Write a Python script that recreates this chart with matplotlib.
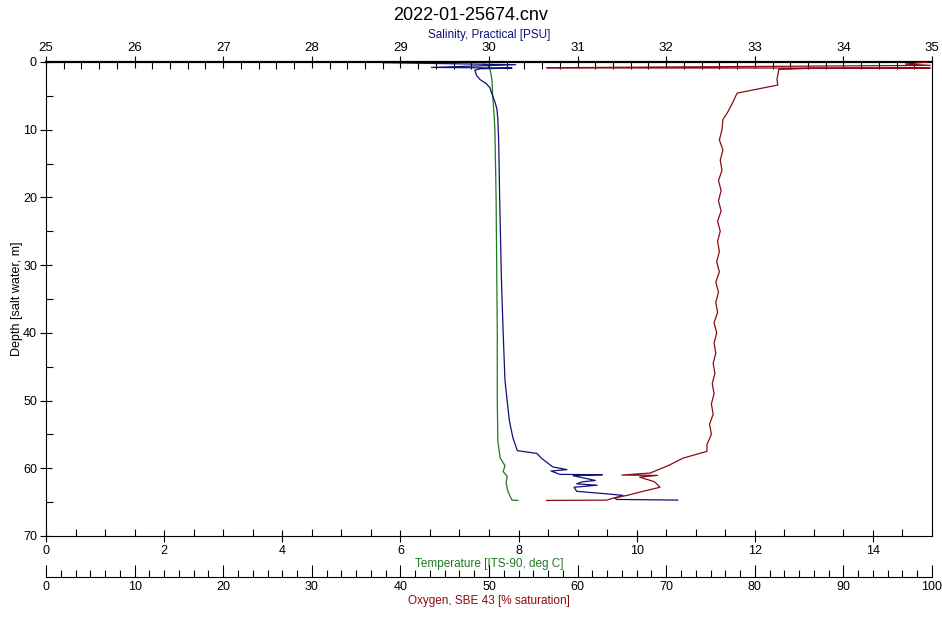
import matplotlib
matplotlib.use("Agg")
import matplotlib.pyplot as plt
from matplotlib.ticker import MultipleLocator

# CTD profile values (depth in m)
sal_depth = [0.0, 0.1, 0.4, 0.8, 0.9, 1.0, 1.2, 2.0, 2.6, 3.2, 3.8, 4.6, 6.0, 7.0, 8.5, 12, 20,
             26, 32, 40, 47, 53, 55.5, 57.4, 57.8, 58.6, 59.3, 59.8, 60.2, 60.4, 60.9, 60.95,
             61.1, 61.8, 62.0, 62.3, 62.5, 62.8, 63.4, 63.8, 64.0, 64.4, 64.6, 64.7]
salinity = [30.88, 28.8, 30.3, 29.35, 30.26, 29.9, 29.84, 29.86, 29.9, 29.97, 30.01, 30.03,
            30.07, 30.09, 30.10, 30.11, 30.12, 30.13, 30.14, 30.16, 30.18, 30.23, 30.27, 30.32,
            30.54, 30.60, 30.67, 30.72, 30.88, 30.70, 30.80, 31.28, 30.95, 31.20, 31.05, 30.99,
            31.22, 30.96, 30.99, 31.35, 31.51, 31.42, 31.44, 32.13]

temp_depth = [0.3, 0.5, 1.2, 2.6, 4.6, 7.0, 10, 20, 30, 40, 50, 56, 58.5, 59.6, 60.5, 61.2, 62.1,
              63.1, 64.2, 64.7, 64.75]
temperature = [7.40, 7.48, 7.52, 7.55, 7.56, 7.58, 7.60, 7.62, 7.63, 7.64, 7.64, 7.65, 7.69, 7.77,
               7.74, 7.81, 7.79, 7.81, 7.86, 7.89, 7.99]

ox_depth = [0.0, 0.3, 0.5, 0.85, 0.88, 0.9, 0.95, 1.1, 1.2, 2.6, 3.4, 4.6, 6.0, 7.5, 8.5,
            10, 11.5, 13, 14.5, 16, 17.5, 19, 20.5, 22, 23.5, 25, 26.5, 28, 29.5, 31, 32.5, 34,
            35.5, 37, 38.5, 40, 41.5, 43, 44.5, 46, 47.5, 49, 50.5, 52, 53.5, 55, 56.5, 57.5,
            58.5, 59.5, 60.7, 61.0, 61.05, 61.3, 62.0, 62.8, 63.4, 64.0, 64.4, 64.7, 64.75]
oxygen = [99.5, 97.0, 99.8, 56.5, 63.0, 99.8, 86.0, 82.7, 82.7, 82.5, 82.6, 78.0, 77.5, 76.9,
          76.4, 76.3, 76.0, 76.4, 76.1, 76.3, 75.9, 76.2, 75.9, 76.2, 75.8, 76.1, 75.8, 76.0,
          75.7, 76.0, 75.6, 75.9, 75.6, 75.8, 75.4, 75.7, 75.4, 75.6, 75.3, 75.5, 75.2, 75.4,
          75.1, 75.3, 74.9, 75.1, 74.6, 74.6, 71.9, 70.4, 68.2, 65.0, 69.0, 67.0, 68.7, 69.3,
          67.4, 65.6, 64.0, 63.3, 56.5]

SAL_COLOR = "#10107a"
TEMP_COLOR = "#1f7a1f"
OX_COLOR = "#8b0a14"

plt.rcParams["font.family"] = ["Liberation Sans", "DejaVu Sans"]

W, H = 942, 622
fig = plt.figure(figsize=(W / 100, H / 100), dpi=100)
left, right, top, bottom = 46, 932, 62, 536
ax = fig.add_axes([left / W, 1 - bottom / H, (right - left) / W, (bottom - top) / H])

# temperature on the bottom axis
ax.plot(temperature, temp_depth, color=TEMP_COLOR, lw=0.9)
ax.set_xlim(0, 15)
ax.set_ylim(70, 0)
ax.xaxis.set_major_locator(MultipleLocator(2))
ax.xaxis.set_minor_locator(MultipleLocator(0.5))
ax.yaxis.set_major_locator(MultipleLocator(10))
ax.yaxis.set_minor_locator(MultipleLocator(5))
ax.tick_params(axis="both", which="major", direction="inout", length=9, width=0.8,
               labelsize=9, pad=2)
ax.tick_params(axis="both", which="minor", direction="in", length=5, width=0.8)
ax.set_xlabel("Temperature [ITS-90, deg C]", color=TEMP_COLOR, fontsize=8.5, labelpad=1)
ax.set_ylabel("Depth [salt water, m]", fontsize=9)
ax.yaxis.set_label_coords(-(left - 23) / (right - left), 0.5)
ax.spines["top"].set_visible(False)

# salinity on the top axis
ax_sal = ax.twiny()
ax_sal.plot(salinity, sal_depth, color=SAL_COLOR, lw=0.9)
ax_sal.set_xlim(25, 35)
ax_sal.set_ylim(70, 0)
ax_sal.xaxis.set_major_locator(MultipleLocator(1))
ax_sal.xaxis.set_minor_locator(MultipleLocator(0.2))
ax_sal.tick_params(axis="x", which="major", direction="inout", length=9, width=0.8,
                   labelsize=9.5, pad=1)
ax_sal.tick_params(axis="x", which="minor", direction="in", length=5, width=0.8)
ax_sal.set_xlabel("Salinity, Practical [PSU]", color=SAL_COLOR, fontsize=8.5, labelpad=3)
ax_sal.spines["top"].set_linewidth(1.6)
for s in ("left", "right", "bottom"):
    ax_sal.spines[s].set_visible(False)

# oxygen on a detached axis below
ax_ox = ax.twiny()
ax_ox.plot(oxygen, ox_depth, color=OX_COLOR, lw=0.9)
ax_ox.set_xlim(0, 100)
ax_ox.set_ylim(70, 0)
ax_ox.xaxis.set_ticks_position("bottom")
ax_ox.xaxis.set_label_position("bottom")
ax_ox.spines["bottom"].set_position(("axes", -(577 - bottom) / (bottom - top)))
for s in ("left", "right", "top"):
    ax_ox.spines[s].set_visible(False)
ax_ox.xaxis.set_major_locator(MultipleLocator(10))
ax_ox.xaxis.set_minor_locator(MultipleLocator(10 / 6))
ax_ox.tick_params(axis="x", which="major", direction="in", length=9, width=0.8,
                  labelsize=9, pad=3)
ax_ox.tick_params(axis="x", which="minor", direction="in", length=5, width=0.8)
ax_ox.set_xlabel("Oxygen, SBE 43 [% saturation]", color=OX_COLOR, fontsize=8.5, labelpad=1)

fig.text(0.5, 1 - 16 / H, "2022-01-25674.cnv", ha="center", va="center", fontsize=13)

fig.savefig("out.png", dpi=100)
